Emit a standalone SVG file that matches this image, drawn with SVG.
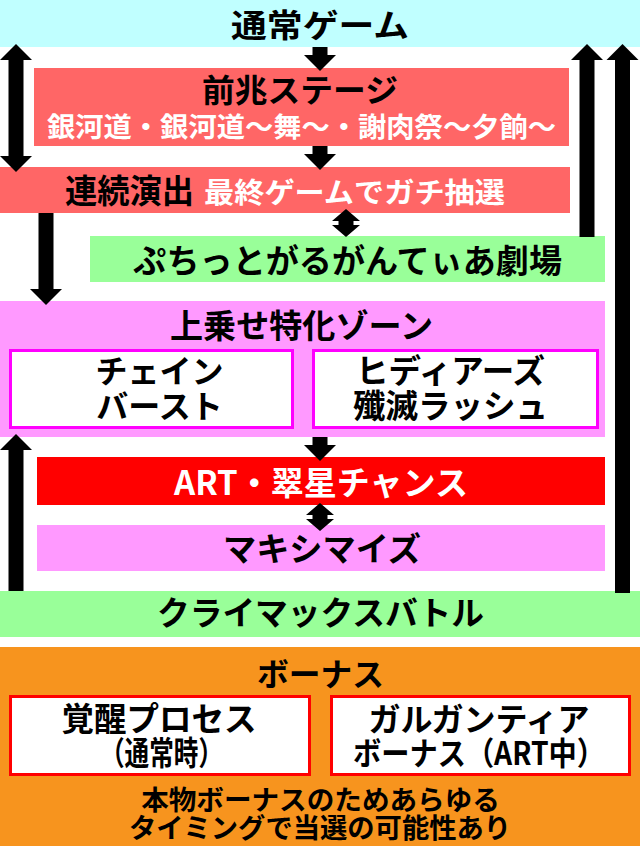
<svg xmlns="http://www.w3.org/2000/svg" width="640" height="846" viewBox="0 0 640 846">
<style>
text{font-family:"Noto Sans CJK JP","Noto Sans",sans-serif;font-weight:700;text-anchor:middle}
.k{fill:#000}
.w{fill:#fff}
.arrow polygon{fill:#000}
.sub{fill:#fff;stroke-width:3}
</style>
<rect width="640" height="846" fill="#fff"/>
<g id="normal-game">
<rect x="0" y="0" width="640" height="47" fill="#C0FFFF"/>
<text class="k" x="320" y="36.5" font-size="32" textLength="178" lengthAdjust="spacingAndGlyphs">通常ゲーム</text>
</g>
<g id="zencho-stage">
<rect x="34" y="68" width="535" height="78" fill="#FF6666"/>
<text class="k" x="300" y="101.5" font-size="32" textLength="196" lengthAdjust="spacingAndGlyphs">前兆ステージ</text>
<text class="w" x="301.5" y="137" font-size="27" textLength="509" lengthAdjust="spacingAndGlyphs">銀河道・銀河道～舞～・謝肉祭～夕餉～</text>
</g>
<g id="renzoku">
<rect x="0" y="167" width="570" height="46" fill="#FF6666"/>
<text class="k" x="129.5" y="202.5" font-size="33" textLength="129" lengthAdjust="spacingAndGlyphs">連続演出</text>
<text class="w" x="354.5" y="203" font-size="28" textLength="301" lengthAdjust="spacingAndGlyphs">最終ゲームでガチ抽選</text>
</g>
<g id="petit-theater">
<rect x="90" y="236" width="515" height="46" fill="#99FF99"/>
<text class="k" x="347.5" y="272.5" font-size="33" textLength="429" lengthAdjust="spacingAndGlyphs">ぷちっとがるがんてぃあ劇場</text>
</g>
<g id="uwanose-zone">
<rect x="0" y="301" width="605" height="136" fill="#FF99FF"/>
<text class="k" x="301.5" y="337.5" font-size="33" textLength="263" lengthAdjust="spacingAndGlyphs">上乗せ特化ゾーン</text>
</g>
<g id="chain-burst">
<rect class="sub" x="10.5" y="350.5" width="282" height="77" stroke="#FF00FF"/>
<text class="k" font-size="32"><tspan x="159.5" y="383">チェイン</tspan><tspan x="159.5" y="418">バースト</tspan></text>
</g>
<g id="hideous-rush">
<rect class="sub" x="313.5" y="350.5" width="284" height="77" stroke="#FF00FF"/>
<text class="k" font-size="32.5"><tspan x="450.5" y="383">ヒディアーズ</tspan><tspan x="450.5" y="418">殲滅ラッシュ</tspan></text>
</g>
<g id="art-suisei">
<rect x="37" y="457" width="568" height="48" fill="#FF0000"/>
<text class="w" x="321" y="495" font-size="33" textLength="294" lengthAdjust="spacingAndGlyphs">ART・翠星チャンス</text>
</g>
<g id="maximize">
<rect x="37" y="525" width="568" height="46" fill="#FF99FF"/>
<text class="k" x="322" y="561" font-size="33" textLength="198" lengthAdjust="spacingAndGlyphs">マキシマイズ</text>
</g>
<g id="climax-battle">
<rect x="0" y="591" width="640" height="46" fill="#99FF99"/>
<text class="k" x="320.5" y="625" font-size="33" textLength="327" lengthAdjust="spacingAndGlyphs">クライマックスバトル</text>
</g>
<g id="bonus">
<rect x="0" y="647" width="640" height="199" fill="#F7941E"/>
<text class="k" x="320.5" y="686" font-size="32" textLength="127" lengthAdjust="spacingAndGlyphs">ボーナス</text>
<text class="k"><tspan x="320.5" y="810" font-size="27.6">本物ボーナスのためあらゆる</tspan><tspan x="320" y="837.5" font-size="27.3">タイミングで当選の可能性あり</tspan></text>
</g>
<g id="kakusei-process">
<rect class="sub" x="10.5" y="696.5" width="299" height="78" stroke="#FF0000"/>
<text class="k" font-size="32.5"><tspan x="159" y="731">覚醒プロセス</tspan><tspan x="161.5" y="765" textLength="123" lengthAdjust="spacingAndGlyphs">（通常時）</tspan></text>
</g>
<g id="gargantia-bonus">
<rect class="sub" x="331.5" y="696.5" width="298" height="78" stroke="#FF0000"/>
<text class="k" font-size="32"><tspan x="479" y="731">ガルガンティア</tspan><tspan x="479" y="765" textLength="252" lengthAdjust="spacingAndGlyphs">ボーナス（ART中）</tspan></text>
</g>
<g id="connectors" class="arrow">
<polygon points="312.5,47 327.5,47 327.5,55 336,55 320,71 304,55 312.5,55"/>
<polygon points="312.5,146 327.5,146 327.5,154 336,154 320,170 304,154 312.5,154"/>
<polygon points="16,44 32,60 23.5,60 23.5,156 32,156 16,172 0,156 8.5,156 8.5,60 0,60"/>
<polygon points="587,44 603,60 594.5,60 594.5,237 579.5,237 579.5,60 571,60"/>
<polygon points="622.5,44 638.5,60 630,60 630,593 615,593 615,60 606.5,60"/>
<polygon points="346,209 360,221 353.5,221 353.5,225 360,225 346,237 332,225 338.5,225 338.5,221 332,221"/>
<polygon points="38.5,213 53.5,213 53.5,289 62,289 46,305 30,289 38.5,289"/>
<polygon points="312.5,437 327.5,437 327.5,445 336,445 320,461 304,445 312.5,445"/>
<polygon points="320,503 334,515 327.5,515 327.5,519 334,519 320,531 306,519 312.5,519 312.5,515 306,515"/>
<polygon points="16,434 32,450 23.5,450 23.5,591 8.5,591 8.5,450 0,450"/>
</g>
</svg>
